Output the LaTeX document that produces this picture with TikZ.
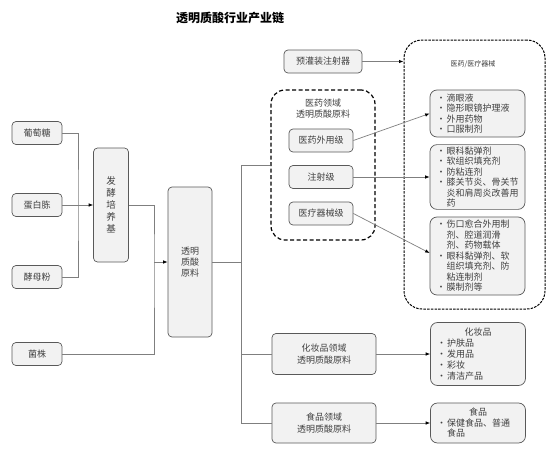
\documentclass[tikz,border=0pt]{standalone}
\usepackage{fontspec}
\setmainfont{Noto Sans CJK SC}
\usetikzlibrary{arrows.meta}
\definecolor{boxfill}{HTML}{F2F2F2}
\definecolor{boxline}{HTML}{595959}
\definecolor{wire}{HTML}{7F7F7F}
\definecolor{ink}{HTML}{404040}
\newcommand{\bul}{\makebox[11pt][c]{\textbullet}}
\newcommand{\ind}{\hspace*{11pt}}
\newcommand{\head}[1]{\makebox[84pt][c]{#1}}
\tikzset{
  box/.style={rectangle, rounded corners=4pt, draw=boxline, fill=boxfill, line width=0.7pt,
    text=ink, font=\fontsize{9}{11}\selectfont, align=center, inner sep=2pt},
  list/.style={box, rounded corners=7pt, text width=84pt, align=left, inner xsep=5.5pt,
    font=\fontsize{9}{10.5}\selectfont},
  zone/.style={rectangle, rounded corners=14pt, draw=black, dash pattern=on 4pt off 2.5pt, line width=1.2pt},
  link/.style={draw=wire, line width=0.7pt},
  arr/.style={link, -{Latex[length=4.5pt, width=3.5pt, color=black]}}
}
\begin{document}
\begin{tikzpicture}[x=1pt, y=-1pt]
  \useasboundingbox (0,0) rectangle (550,450);
  \node[font=\fontsize{12}{14}\selectfont\bfseries] (title) at (230,18) {透明质酸行业产业链};

  % raw materials
  \foreach \n/\t/\y in {glu/葡萄糖/133, pep/蛋白胨/205, yeast/酵母粉/277, strain/菌株/354} {
    \node[box, minimum width=50pt, minimum height=23pt] (\n) at (37,\y) {\t};
  }
  \node[box, minimum width=35pt, minimum height=114pt, font=\fontsize{9.5}{12}\selectfont] (ferm) at (111,205) {发\\酵\\培\\养\\基};
  \node[box, minimum width=44pt, minimum height=150pt] (ha) at (190,262) {透明\\质酸\\原料};

  \coordinate (j1) at (78,205);
  \coordinate (j2) at (154,262);
  \coordinate (j3) at (241,262);
  \draw[link] (glu.east) -| (j1) |- (yeast.east);
  \draw[arr] (pep.east) -- (ferm.west);
  \draw[link] (ferm.east) -| (j2) |- (strain.east);
  \draw[arr] (j2) -- (ha.west);

  % medical grades
  \node[zone, minimum width=104pt, minimum height=150pt] (med) at (323,165) {};
  \node[text=ink, font=\fontsize{9}{11}\selectfont, align=center] (medtitle) at (323,108.5) {医药领域\\透明质酸原料};
  \foreach \n/\t/\y in {ext/医药外用级/140.5, inj/注射级/177, dev/医疗器械级/213.5} {
    \node[box, minimum width=64pt, minimum height=23pt] (\n) at (321,\y) {\t};
  }
  \node[box, minimum width=78pt, minimum height=23pt] (syr) at (323,61.5) {预灌装注射器};

  \node[zone, rounded corners=18pt, dash pattern=on 2.5pt off 1.2pt, line width=1pt,
    minimum width=141pt, minimum height=269pt] (medbig) at (474.5,174.5) {};
  \node[text=ink, font=\fontsize{7}{8}\selectfont] (medbigtitle) at (473,64) {医药/医疗器械};
  \node[list, minimum height=47pt] (pa) at (477.5,113.5) {\bul 滴眼液\\ \bul 隐形眼镜护理液\\ \bul 外用药物\\ \bul 口服制剂};
  \node[list, minimum height=62pt] (pb) at (477.5,177) {\bul 眼科黏弹剂\\ \bul 软组织填充剂\\ \bul 防粘连剂\\ \bul 膝关节炎、骨关节\\ \ind 炎和肩周炎改善用\\ \ind 药};
  \node[list, minimum height=78pt] (pc) at (477.5,256) {\bul 伤口愈合外用制\\ \ind 剂、腔道润滑\\ \ind 剂、药物载体\\ \bul 眼科黏弹剂、软\\ \ind 组织填充剂、防\\ \ind 粘连制剂\\ \bul 膜制剂等};

  \draw[arr] (syr.east) -- (syr.east -| medbig.west);
  \draw[arr] (ext.east) -- (pa.west);
  \draw[arr] (inj.east) -- (pb.west);
  \draw[arr] (dev.east) -- (pc.west |- 0,253);

  % cosmetics and food
  \node[box, minimum width=104pt, minimum height=41pt, font=\fontsize{9}{12}\selectfont] (cos) at (324,354) {化妆品领域\\透明质酸原料};
  \node[list, minimum height=63pt, font=\fontsize{9}{11}\selectfont] (cosp) at (478,354) {\head{化妆品}\\ \bul 护肤品\\ \bul 发用品\\ \bul 彩妆\\ \bul 清洁产品};
  \node[box, minimum width=104pt, minimum height=40pt, font=\fontsize{9}{12}\selectfont] (food) at (324,423) {食品领域\\透明质酸原料};
  \node[list, minimum height=40pt] (foodp) at (478,423) {\head{食品}\\ \bul 保健食品、普通\\ \ind 食品};

  \draw[link] (ha.east) -- (j3);
  \draw[link] (j3) |- (med.west);
  \draw[link] (j3) |- (cos.west);
  \draw[link] (j3) |- (food.west);
  \draw[arr] (cos.east) -- (cosp.west);
  \draw[arr] (food.east) -- (foodp.west);
\end{tikzpicture}
\end{document}
